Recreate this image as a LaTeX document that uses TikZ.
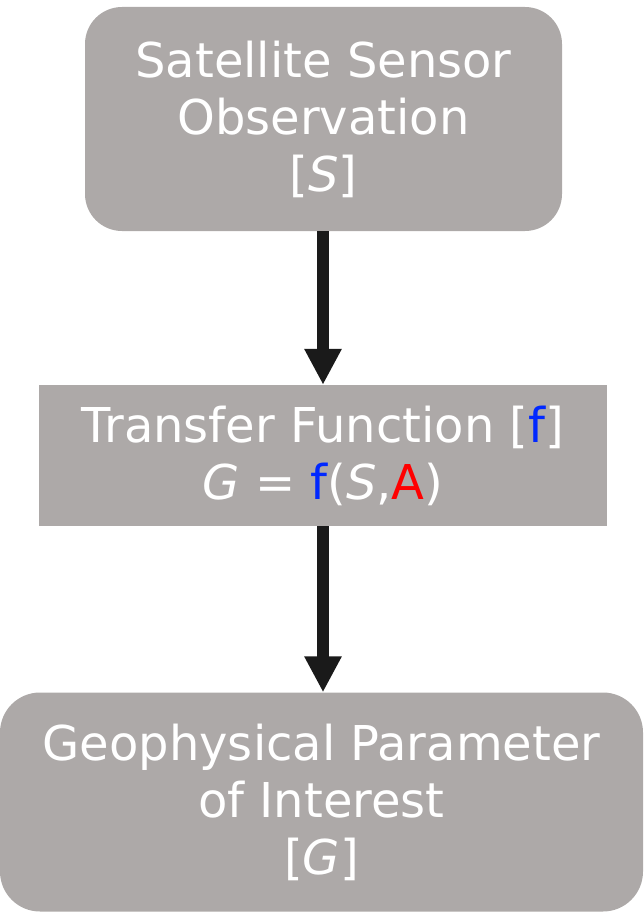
\documentclass[tikz,border=0pt]{standalone}
\usepackage{fontspec}
\setmainfont{DejaVu Sans}
\usetikzlibrary{arrows.meta}
\definecolor{boxgrey}{RGB}{173,169,168}
\definecolor{fblue}{RGB}{0,40,255}
\definecolor{ared}{RGB}{255,0,0}
\definecolor{arrowblack}{RGB}{26,26,26}
\begin{document}
\begin{tikzpicture}[x=1pt,y=-1pt,
  box/.style={fill=boxgrey, draw=none, text=white, align=center, inner sep=0pt,
    font=\fontsize{48}{57}\selectfont},
  flow/.style={line width=12pt, draw=arrowblack, -{Triangle[width=35pt,length=36pt]}}]
\useasboundingbox (0,0) rectangle (643,912);
\node[box, rounded corners=37pt, minimum width=477pt, minimum height=224pt] (sat) at (323.5,119)
  {Satellite Sensor\\Observation\\{[}\textit{S}{]}};
\node[box, minimum width=568pt, minimum height=141pt] (tf) at (323,455.5)
  {Transfer Function {[}\textcolor{fblue}{f}{]}\\\textit{G} = \textcolor{fblue}{f}(\textit{S},\textcolor{ared}{A})};
\node[box, rounded corners=40pt, minimum width=643pt, minimum height=219pt] (geo) at (321.5,802)
  {Geophysical Parameter\\of Interest\\{[}\textit{G}{]}};
\draw[flow] (sat.south -| 323,0) -- (tf.north -| 323,0);
\draw[flow] (tf.south -| 323,0) -- (geo.north -| 323,0);
\end{tikzpicture}
\end{document}
